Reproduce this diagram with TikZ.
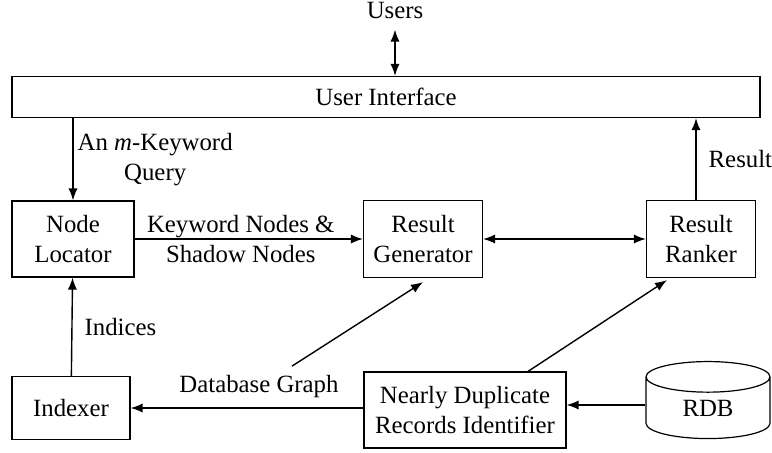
\documentclass[tikz,border=0pt]{standalone}
\usepackage{fontspec}
\setmainfont{Liberation Serif}
\usepackage{tikz}
\usetikzlibrary{shapes.geometric,arrows.meta,positioning,calc}

\begin{document}
\begin{tikzpicture}[
    x=0.5pt, y=-0.5pt,
    font=\fontsize{12.4}{15}\selectfont,
    box/.style={draw, line width=0.6pt, align=center, inner sep=0pt},
    db/.style={draw, line width=0.6pt, cylinder, shape border rotate=90, aspect=0.6,
               minimum width=62pt, minimum height=38.5pt, inner sep=0pt},
    flow/.style={line width=0.7pt, -{Latex[length=6pt,width=4.6pt]}},
    twoway/.style={line width=0.7pt, {Latex[length=6pt,width=4.6pt]}-{Latex[length=6pt,width=4.6pt]}},
    lbl/.style={align=center, inner sep=0pt}
]
    \useasboundingbox (0,0) rectangle (772,452);

    % Boxes
    \node[box, minimum width=374pt, minimum height=20.5pt] (ui) at (386,97) {User Interface};
    \node[lbl] (users) at (395,10) {Users};
    \node[box, minimum width=61pt, minimum height=38pt] (nl) at (73,239) {Node\\Locator};
    \node[box, minimum width=59.5pt, minimum height=38.5pt] (rg) at (423,239) {Result\\Generator};
    \node[box, minimum width=54.5pt, minimum height=38.5pt] (rr) at (701,239) {Result\\Ranker};
    \node[box, minimum width=59pt, minimum height=31.5pt] (idx) at (71,408) {Indexer};
    \node[box, minimum width=101pt, minimum height=38pt] (ndri) at (465,410) {Nearly Duplicate\\Records Identifier};
    \node[db] (rdb) at (708,408) {RDB};

    % Connectors
    \draw[twoway] ([yshift=-5.5pt]users.south) -- (users |- ui.north);
    \draw[flow] (nl.north |- ui.south) -- node[lbl, right=2pt] (query) {An \textit{m}-Keyword\\Query} (nl.north);
    \draw[flow] (nl) -- node[lbl, xshift=-4pt] (kw) {Keyword Nodes \&\\Shadow Nodes} (rg);
    \draw[twoway] (rg) -- (rr);
    \draw[flow] ([xshift=-2.5pt]rr.north) -- node[lbl, right=6pt] (res) {Result} ([xshift=-2.5pt]rr.north |- ui.south);
    \draw[flow] ([yshift=1.5pt]rdb.west) -- ([yshift=1.5pt]ndri.east |- rdb.west);
    \draw[flow] (ndri.west |- idx) -- node[lbl, above=5pt, xshift=6pt] (dbg) {Database Graph} (idx);
    \coordinate (dbgout) at ([xshift=16.5pt, yshift=4pt]dbg.north);
    \draw[flow] (dbgout) -- ([yshift=-2pt]rg.south);
    \draw[flow] ([xshift=31.5pt]ndri.north) -- ([xshift=-17pt, yshift=-1pt]rr.south);
    \draw[flow] (idx) -- node[lbl, right=6pt] (ind) {Indices} (nl);
\end{tikzpicture}
\end{document}
